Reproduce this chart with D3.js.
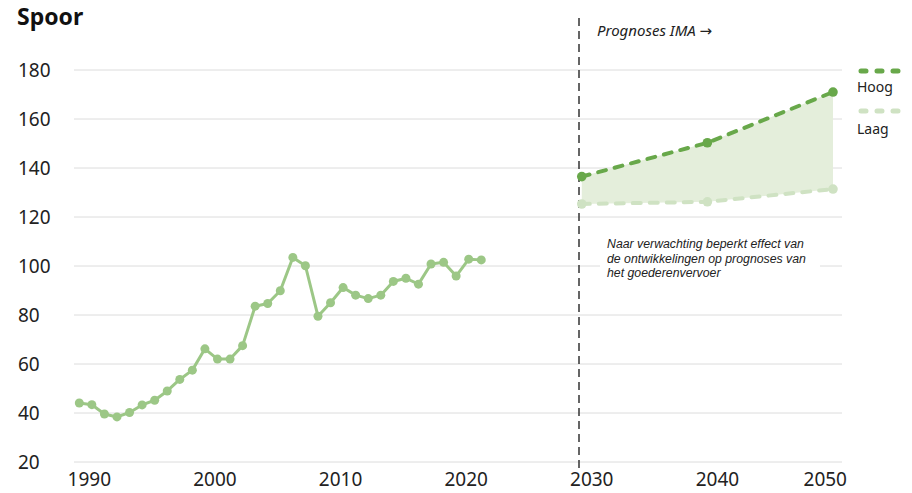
<!DOCTYPE html>
<html>
<head>
<meta charset="utf-8">
<script src="https://cdn.jsdelivr.net/npm/d3@7"></script>
<style>
  body { margin: 0; background: #fff; }
  svg { display: block; font-family: "Noto Sans", "Open Sans", sans-serif; }
</style>
</head>
<body>
<svg id="chart"></svg>
<script>
// historical rail volumes, 1990 - 2022
const years = d3.range(1990, 2023);
const spoor = [44.1, 43.4, 39.6, 38.4, 40.2, 43.3, 45.2, 49.0, 53.7, 57.5,
    66.2, 62.0, 62.0, 67.5, 83.6, 84.7, 89.9, 103.5, 100.1, 79.5,
    85.0, 91.2, 88.1, 86.7, 88.1, 93.7, 95.0, 92.6, 100.8, 101.5,
    95.9, 102.8, 102.5];

// IMA prognoses
const progYears = [2030, 2040, 2050];
const hoog = [136.5, 150.3, 171.0];
const laag = [125.3, 126.2, 131.4];

const yTicks = [20, 40, 60, 80, 100, 120, 140, 160, 180];
const xTicks = [1990, 2000, 2010, 2020, 2030, 2040, 2050];
const seriesNames = ["Hoog", "Laag"];

const width = 912, height = 493;
const colHist = "#9cc786", colHoog = "#68a84a", colLaag = "#cfe2c3", colFill = "#e4eedb";

const svg = d3.select("#chart").attr("width", width).attr("height", height);

const x = d3.scaleLinear().domain([1990, 2050]).range([79.3, 833]);
const y = d3.scaleLinear().domain([20, 180]).range([462, 70]);

// title
svg.append("text")
    .attr("x", 17).attr("y", 25)
    .attr("font-size", 23).attr("font-weight", 700)
    .attr("fill", "#111")
    .text("Spoor");

// gridlines + y labels
const yAxis = svg.append("g");
yAxis.selectAll("line").data(yTicks).join("line")
    .attr("x1", 74).attr("x2", 842)
    .attr("y1", d => y(d)).attr("y2", d => y(d))
    .attr("stroke", "#dcdcdc").attr("stroke-width", 1);
yAxis.selectAll("text").data(yTicks).join("text")
    .attr("x", 18).attr("y", d => y(d))
    .attr("dy", "0.35em")
    .attr("font-size", 19).attr("fill", "#222")
    .text(d => d);

// x labels (sit a bit right of the year, last one kept inside)
svg.append("g").selectAll("text").data(xTicks).join("text")
    .attr("x", d => d === 2050 ? 847 : x(d) + 10)
    .attr("y", 486)
    .attr("text-anchor", d => d === 2050 ? "end" : "middle")
    .attr("font-size", 19).attr("fill", "#222")
    .text(d => d);

// prognosis band
const proj = progYears.map((yr, i) => ({ yr: yr, hoog: hoog[i], laag: laag[i] }));
svg.append("path")
    .datum(proj)
    .attr("fill", colFill)
    .attr("d", d3.area().x(d => x(d.yr)).y0(d => y(d.laag)).y1(d => y(d.hoog)));

// divider line
svg.append("line")
    .attr("x1", 579).attr("x2", 579)
    .attr("y1", 18).attr("y2", 470)
    .attr("stroke", "#333").attr("stroke-width", 1.5)
    .attr("stroke-dasharray", "8,5");

const prog = svg.append("text")
    .attr("x", 597).attr("y", 36)
    .attr("font-size", 15).attr("font-style", "italic").attr("fill", "#222");
prog.append("tspan").text("Prognoses IMA ");
prog.append("tspan").attr("font-family", "DejaVu Sans").attr("font-style", "normal")
    .attr("font-size", 15).text("\u2192");

// prognosis lines
[[laag, colLaag], [hoog, colHoog]].forEach(function (s) {
    const vals = s[0], col = s[1];
    svg.append("path")
        .datum(vals)
        .attr("fill", "none")
        .attr("stroke", col).attr("stroke-width", 4)
        .attr("stroke-linecap", "round")
        .attr("stroke-dasharray", "8,9")
        .attr("d", d3.line().x((d, i) => x(progYears[i])).y(d => y(d)));
    svg.append("g").selectAll("circle").data(vals).join("circle")
        .attr("cx", (d, i) => x(progYears[i])).attr("cy", d => y(d))
        .attr("r", 4.8).attr("fill", col);
});

// historical line
svg.append("path")
    .datum(spoor)
    .attr("fill", "none")
    .attr("stroke", colHist).attr("stroke-width", 3)
    .attr("stroke-linejoin", "round")
    .attr("d", d3.line().x((d, i) => x(years[i])).y(d => y(d)));
svg.append("g").selectAll("circle").data(spoor).join("circle")
    .attr("cx", (d, i) => x(years[i])).attr("cy", d => y(d))
    .attr("r", 4.5).attr("fill", colHist);

// annotation with white backing
const note = svg.append("g");
note.append("rect")
    .attr("x", 600).attr("y", 232).attr("width", 220).attr("height", 52)
    .attr("fill", "#fff");
const noteLines = ["Naar verwachting beperkt effect van",
    "de ontwikkelingen op prognoses van",
    "het goederenvervoer"];
note.append("text")
    .attr("x", 607).attr("y", 248)
    .attr("font-family", "Liberation Sans")
    .attr("font-size", 12.3).attr("font-style", "italic").attr("fill", "#222")
    .selectAll("tspan").data(noteLines).join("tspan")
    .attr("x", 607).attr("dy", (d, i) => i === 0 ? 0 : 14.6)
    .text(d => d);

// legend
const legend = svg.append("g");
seriesNames.forEach(function (name, i) {
    const col = i === 0 ? colHoog : colLaag;
    const ly = 71 + i * 40;
    legend.append("line")
        .attr("x1", 861).attr("x2", 900)
        .attr("y1", ly).attr("y2", ly)
        .attr("stroke", col).attr("stroke-width", 5)
        .attr("stroke-linecap", "round")
        .attr("stroke-dasharray", "5,11");
    legend.append("text")
        .attr("x", 857).attr("y", ly + 21 + i * 2)
        .attr("font-size", 14).attr("fill", "#222")
        .text(name);
});
</script>
</body>
</html>
